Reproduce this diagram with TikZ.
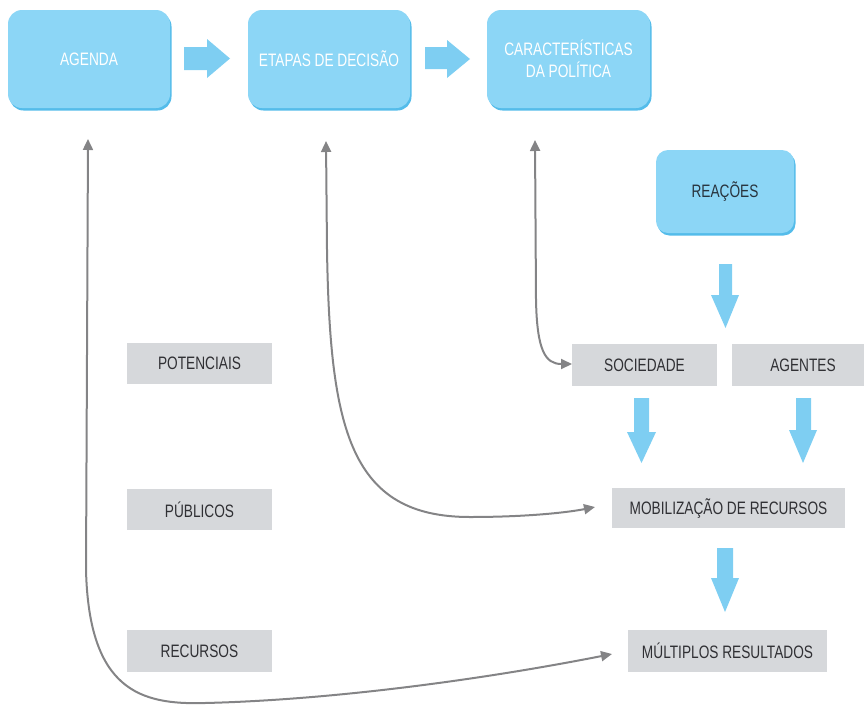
\documentclass[tikz,border=0pt]{standalone}
\usepackage{fontspec}
\setmainfont{Liberation Sans}[FakeStretch=0.76]
\usetikzlibrary{arrows.meta,shadows}
\definecolor{boxblue}{RGB}{140,214,246}
\definecolor{shadowblue}{RGB}{84,188,234}
\definecolor{arrowblue}{RGB}{126,206,242}
\definecolor{graybox}{RGB}{214,216,219}
\definecolor{graytext}{RGB}{48,48,52}
\definecolor{linegray}{RGB}{132,132,134}
\definecolor{darktext}{RGB}{40,52,62}
\begin{document}
\begin{tikzpicture}[x=1pt,y=-1pt,
  bluebox/.style={draw=none, fill=boxblue, rounded corners=14pt, text=white,
    font=\fontsize{18}{22}\selectfont, align=center, inner sep=0pt,
    drop shadow={shadow xshift=1.5pt, shadow yshift=-2.5pt, fill=shadowblue, opacity=1}},
  graynode/.style={fill=graybox, text=graytext, font=\fontsize{18}{21}\selectfont,
    inner sep=0pt, minimum height=41pt},
  fatarrow/.style={fill=arrowblue, draw=none},
  link/.style={draw=linegray, line width=2pt,
    {Triangle[length=11pt,width=10pt]}-{Triangle[length=11pt,width=10pt]}}]
\useasboundingbox (0,0) rectangle (864,707);

% top blue boxes
\node[bluebox, minimum width=162pt, minimum height=98pt] (agenda) at (89,59) {AGENDA};
\node[bluebox, minimum width=162pt, minimum height=98pt] (etapas) at (329,59) {ETAPAS DE DECIS\~AO};
\node[bluebox, minimum width=163pt, minimum height=98pt] (carac) at (568.5,59) {CARACTER\'ISTICAS\\DA POL\'ITICA};
\node[bluebox, rounded corners=12pt, text=darktext, minimum width=138pt, minimum height=83pt] (reacoes) at (725,191.5) {REA\c{C}\~OES};

% gray boxes
\node[graynode, minimum width=145pt] (potenciais) at (199.5,363.5) {POTENCIAIS};
\node[graynode, minimum width=145pt] (publicos) at (199.5,509.5) {P\'UBLICOS};
\node[graynode, minimum width=145pt, minimum height=42pt] (recursos) at (199.5,651) {RECURSOS};
\node[graynode, minimum width=145pt, minimum height=42pt] (sociedade) at (644.5,365) {SOCIEDADE};
\node[graynode, minimum width=132pt, minimum height=42pt] (agentes) at (798,365) {\hspace*{10pt}AGENTES};
\node[graynode, minimum width=233pt, minimum height=40pt] (mobil) at (728.5,508) {MOBILIZA\c{C}\~AO DE RECURSOS};
\node[graynode, minimum width=199pt, minimum height=42pt] (multi) at (727.5,651) {M\'ULTIPLOS RESULTADOS};

% fat blue arrows (horizontal)
\fill[fatarrow] (184,47) -- (207,47) -- (207,39) -- (230,58.5) -- (207,78) -- (207,70) -- (184,70) -- cycle;
\fill[fatarrow] (425,47) -- (447,47) -- (447,40) -- (470,59) -- (447,78) -- (447,69) -- (425,69) -- cycle;
% fat blue arrows (vertical)
\fill[fatarrow] (719,264) -- (732,264) -- (732,295) -- (739,295) -- (725.5,328) -- (711,295) -- (719,295) -- cycle;
\fill[fatarrow] (634,398) -- (649,398) -- (649,432) -- (656,432) -- (641.5,463) -- (627,432) -- (634,432) -- cycle;
\fill[fatarrow] (796,398) -- (811,398) -- (811,430) -- (817,430) -- (803,463) -- (789,430) -- (796,430) -- cycle;
\fill[fatarrow] (717,548) -- (733,548) -- (733,578) -- (739,578) -- (725,612) -- (711,578) -- (717,578) -- cycle;

% gray connectors
\coordinate (ua) at (88,139);
\coordinate (ue) at (326,141);
\coordinate (uc) at (535,140);
\coordinate (ms) at (572,364);
\coordinate (mm) at (595,507);
\coordinate (mr) at (612,654);

\draw[link] (ua) -- (86,570) .. controls (89,690) and (140,705) .. (205,703)
  .. controls (330,700) and (480,680) .. (mr);
\draw[link] (ue) -- (327,250) .. controls (330,430) and (350,517) .. (470,517)
  .. controls (530,517) and (570,512) .. (mm);
\draw[link] (uc) -- (536,300) .. controls (537,350) and (545,364) .. (ms);
\end{tikzpicture}
\end{document}
